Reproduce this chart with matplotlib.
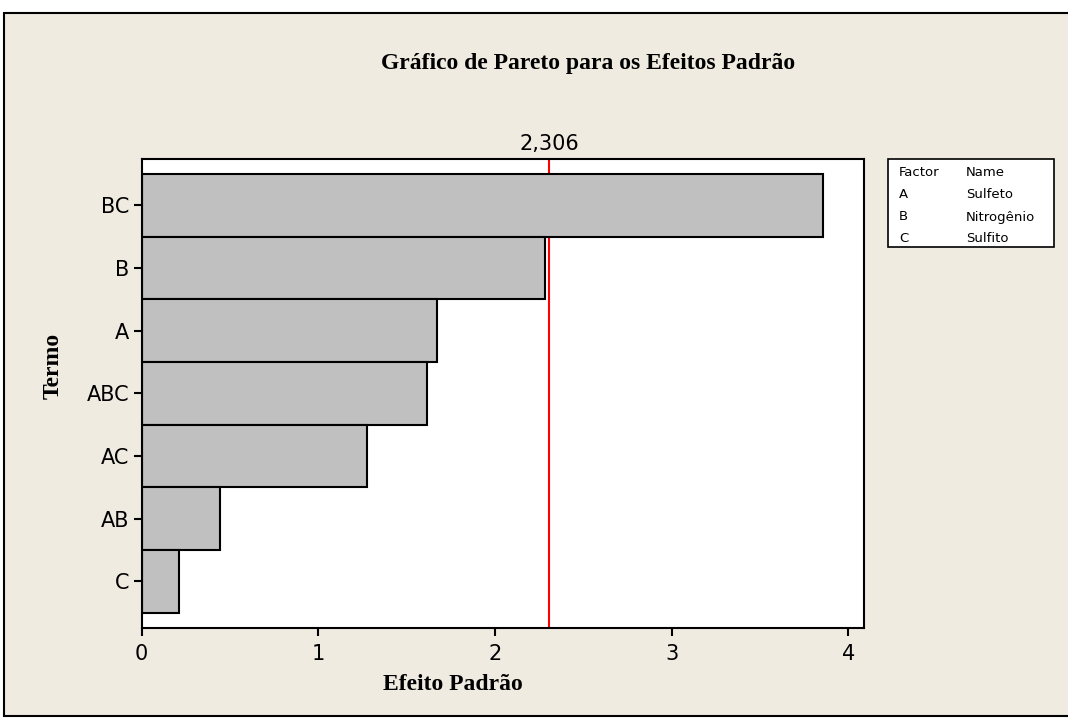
import matplotlib
matplotlib.use("Agg")
import matplotlib.pyplot as plt
from matplotlib.patches import Rectangle

terms = ["BC", "B", "A", "ABC", "AC", "AB", "C"]
effects = [3.855, 2.285, 1.674, 1.612, 1.276, 0.443, 0.209]
critical = 2.306
critical_label = "2,306"
xticks = [0, 1, 2, 3, 4]
legend_factors = ["A", "B", "C"]
legend_names = ["Sulfeto", "Nitrogênio", "Sulfito"]

W, H = 1068, 721
fig = plt.figure(figsize=(W / 100, H / 100), dpi=100)
fig.patch.set_facecolor("white")
bg = "#EFEBE1"
fig.patches.append(Rectangle((4 / W, 1 - 716 / H), 1.1, (716 - 13) / H,
                             transform=fig.transFigure, facecolor=bg,
                             edgecolor="black", linewidth=1.5, zorder=-10))

ax = fig.add_axes([141.7 / W, 1 - 627.7 / H, (864 - 141.7) / W, (627.7 - 159) / H])
ax.set_facecolor("white")
pos = list(range(len(terms)))
ax.axvline(critical, color="#FF0000", linewidth=1.5, zorder=1)
ax.barh(pos, effects, height=1.0, color="#C0C0C0", edgecolor="black",
        linewidth=1.5, zorder=2)
ax.set_xlim(0, 4.088)
ax.set_ylim(6.74, -0.74)
ax.set_yticks(pos)
ax.set_yticklabels(terms)
ax.set_xticks(xticks)
ax.set_xticklabels([str(t) for t in xticks])
ax.tick_params(axis="both", direction="out", length=6, width=1.5, labelsize=15,
               colors="black", pad=3)
ax.tick_params(axis="x", pad=6)
for s in ax.spines.values():
    s.set_linewidth(1.5)
    s.set_zorder(5)
ax.text(critical, 1.0 + 5 / 469, critical_label, transform=ax.get_xaxis_transform(),
        ha="center", va="bottom", fontsize=15)

serif = dict(family="Liberation Serif", fontweight="bold", fontsize=17)
fig.text(452.5 / W, 1 - 685 / H, "Efeito Padrão", ha="center", va="center", **serif)
fig.text(53 / W, 1 - 366 / H, "Termo", ha="center", va="center", rotation=90, **serif)
fig.text(588.5 / W, 1 - 63 / H, "Gráfico de Pareto para os Efeitos Padrão",
         ha="center", va="center", **serif)

# legend table
fig.patches.append(Rectangle((888 / W, 1 - 247 / H), (1054 - 888) / W, (247 - 159) / H,
                             transform=fig.transFigure, facecolor="white",
                             edgecolor="black", linewidth=1.2))
rows_y = [173, 195, 217, 238]
fig.text(899 / W, 1 - rows_y[0] / H, "Factor", fontsize=9.5, va="center")
fig.text(966 / W, 1 - rows_y[0] / H, "Name", fontsize=9.5, va="center")
for f, n, y in zip(legend_factors, legend_names, rows_y[1:]):
    fig.text(899 / W, 1 - y / H, f, fontsize=9.5, va="center")
    fig.text(966 / W, 1 - y / H, n, fontsize=9.5, va="center")

fig.savefig("out.png", dpi=100, facecolor=fig.get_facecolor())
